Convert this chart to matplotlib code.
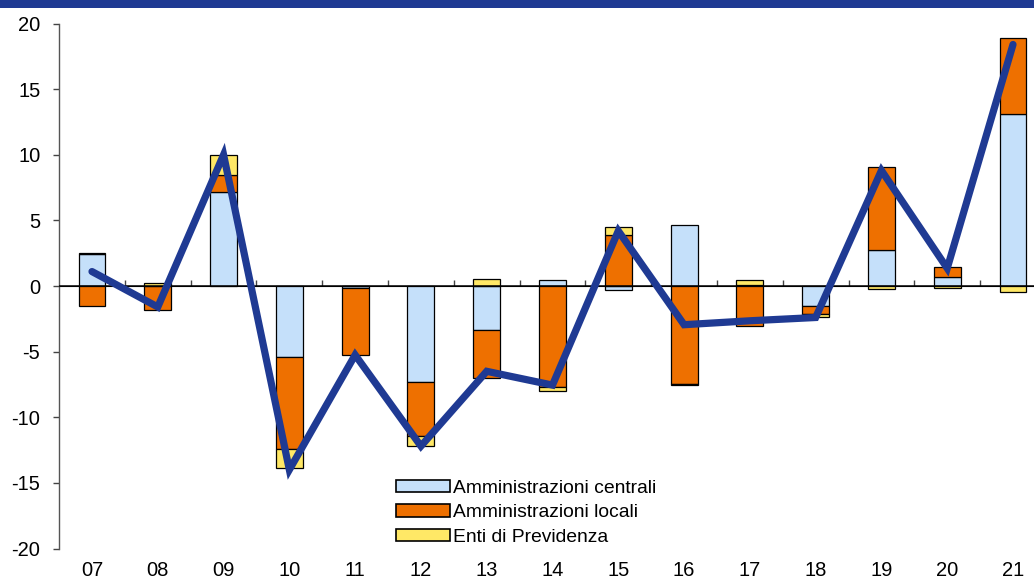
"""Stacked contributions by sub-sector with the overall total as a line."""

import matplotlib
matplotlib.use("Agg")
import matplotlib.pyplot as plt
from matplotlib.patches import Rectangle
import numpy as np

plt.rcParams["font.family"] = ["Liberation Sans", "DejaVu Sans"]
plt.rcParams["axes.unicode_minus"] = False

years = ["07", "08", "09", "10", "11", "12", "13", "14", "15", "16", "17", "18", "19", "20", "21"]

centrali = [2.45, 0.0, 7.13, -5.4, -0.15, -7.35, -3.35, 0.45, -0.3, 4.62, 0.1, -1.55, 2.74, 0.71, 13.1]
locali = [-1.5, -1.85, 1.32, -7.0, -5.1, -4.1, -3.65, -7.7, 3.9, -7.46, -3.07, -0.55, 6.3, 0.76, 5.76]
previdenza = [0.1, 0.25, 1.53, -1.5, 0.0, -0.75, 0.5, -0.28, 0.6, -0.12, 0.35, -0.25, -0.25, -0.13, -0.46]
totale = [1.1, -1.6, 10.0, -14.0, -5.25, -12.2, -6.5, -7.55, 4.2, -2.95, -2.65, -2.4, 8.8, 1.35, 18.4]

series = [
    ("Amministrazioni centrali", centrali, "#C5E0FA"),
    ("Amministrazioni locali", locali, "#EE7000"),
    ("Enti di Previdenza", previdenza, "#FFE866"),
]
line_color = "#1F3A93"

W, H = 1034, 584
fig = plt.figure(figsize=(W / 100, H / 100), dpi=100)
ax = fig.add_axes([59.1 / W, 35.5 / H, 986.8 / W, 525.0 / H])

# dark header band across the top
fig.patches.append(Rectangle((0, (H - 8) / H), 1, 8 / H, transform=fig.transFigure,
                             facecolor=line_color, edgecolor="none", zorder=0))

x = np.arange(len(years))
pos_base = np.zeros(len(years))
neg_base = np.zeros(len(years))
for label, vals, color in series:
    vals = np.array(vals)
    base = np.where(vals >= 0, pos_base, neg_base)
    ax.bar(x, vals, bottom=base, width=0.41, color=color, edgecolor="black",
           linewidth=0.9, label=label, zorder=2)
    pos_base += np.clip(vals, 0, None)
    neg_base += np.clip(vals, None, 0)

ax.plot(x, totale, color=line_color, linewidth=5.2, solid_capstyle="round",
        solid_joinstyle="miter", zorder=4)

ax.axhline(0, color="black", linewidth=1.1, zorder=3)

ax.set_xlim(-0.5, len(years) - 0.5)
ax.set_ylim(-20, 20)
ax.set_yticks(range(-20, 21, 5))
ax.set_xticks(x)
ax.set_xticklabels(years)
ax.tick_params(axis="x", length=0, pad=9, labelsize=14.5)
ax.tick_params(axis="y", length=4.5, width=1.0, color="#444444", pad=9, labelsize=14.5)

for side in ("top", "right", "bottom"):
    ax.spines[side].set_visible(False)
ax.spines["left"].set_color("#555555")
ax.spines["left"].set_linewidth(1.0)

# small category separators hanging from the zero line
sep = ax.secondary_xaxis(0.5)
sep.set_xticks(x[:-1] + 0.5)
sep.set_xticklabels([])
sep.tick_params(length=4.5, width=1.0, color="#444444")
sep.spines["bottom"].set_visible(False)

leg = ax.legend(loc="upper left", bbox_to_anchor=(396 / W, 1 - 480 / H),
                bbox_transform=fig.transFigure, frameon=False, fontsize=13.9,
                handlelength=2.8, handleheight=0.6, handletextpad=0.15,
                labelspacing=0.38, borderpad=0, borderaxespad=0)
for p in leg.get_patches():
    p.set_linewidth(1.2)

fig.savefig("out.png", dpi=100)
